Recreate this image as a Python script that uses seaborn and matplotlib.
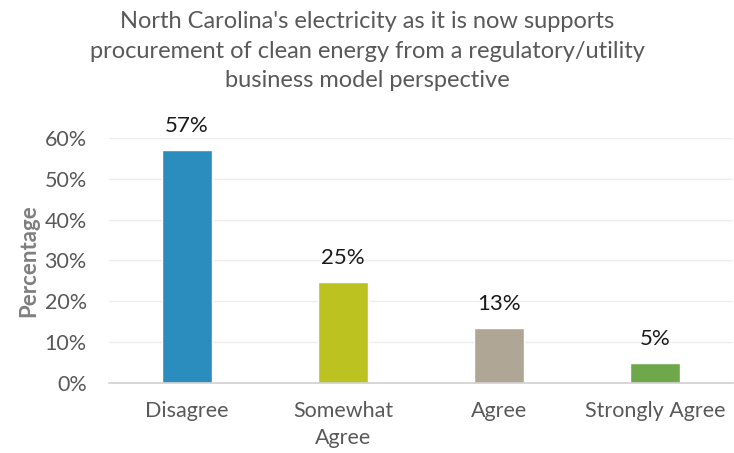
import matplotlib
matplotlib.use("Agg")
import matplotlib.pyplot as plt
import seaborn as sns
import pandas as pd
from matplotlib.ticker import PercentFormatter

# data
categories = ["Disagree", "Somewhat\nAgree", "Agree", "Strongly Agree"]
values = [0.57, 0.248, 0.134, 0.048]
labels = ["57%", "25%", "13%", "5%"]
colors = ["#2B8CBE", "#BCC21F", "#B0A696", "#6EA84A"]

df = pd.DataFrame({"response": categories, "share": values})

sns.set_style("white")
plt.rcParams["font.family"] = ["Lato", "DejaVu Sans"]

fig = plt.figure(figsize=(7.34, 4.53), dpi=100)
ax = fig.add_axes([0.1485, 0.1545, 0.85, 0.541])

sns.barplot(data=df, x="response", y="share", hue="response", palette=colors,
            legend=False, width=0.32, ax=ax, saturation=1)

ax.set_ylim(0, 0.6)
ax.set_yticks([0, 0.1, 0.2, 0.3, 0.4, 0.5, 0.6])
ax.yaxis.set_major_formatter(PercentFormatter(1.0, decimals=0))
ax.grid(axis="y", color="#EDEDED", linewidth=1)
ax.set_axisbelow(True)
ax.set_xlim(-0.5, 3.5)

for s in ["top", "right", "left"]:
    ax.spines[s].set_visible(False)
ax.spines["bottom"].set_color("#D0D0D0")
ax.spines["bottom"].set_linewidth(1.2)

ax.tick_params(axis="both", length=0, labelsize=15.5, colors="#595959")
ax.tick_params(axis="y", pad=16)
ax.tick_params(axis="x", pad=13)
for t in ax.get_xticklabels():
    t.set_linespacing(1.45)
ax.set_xlabel("")
ax.set_ylabel("Percentage", fontsize=16, fontweight="bold", color="#7F7F7F", labelpad=4)

for i, (v, t) in enumerate(zip(values, labels)):
    ax.text(i, v + 0.044, t, ha="center", va="baseline", fontsize=16, color="#1A1A1A")

fig.suptitle("North Carolina's electricity as it is now supports\n"
             "procurement of clean energy from a regulatory/utility\n"
             "business model perspective",
             x=0.5, y=0.975, fontsize=17, color="#595959", linespacing=1.5)

fig.savefig("out.png", dpi=100)
